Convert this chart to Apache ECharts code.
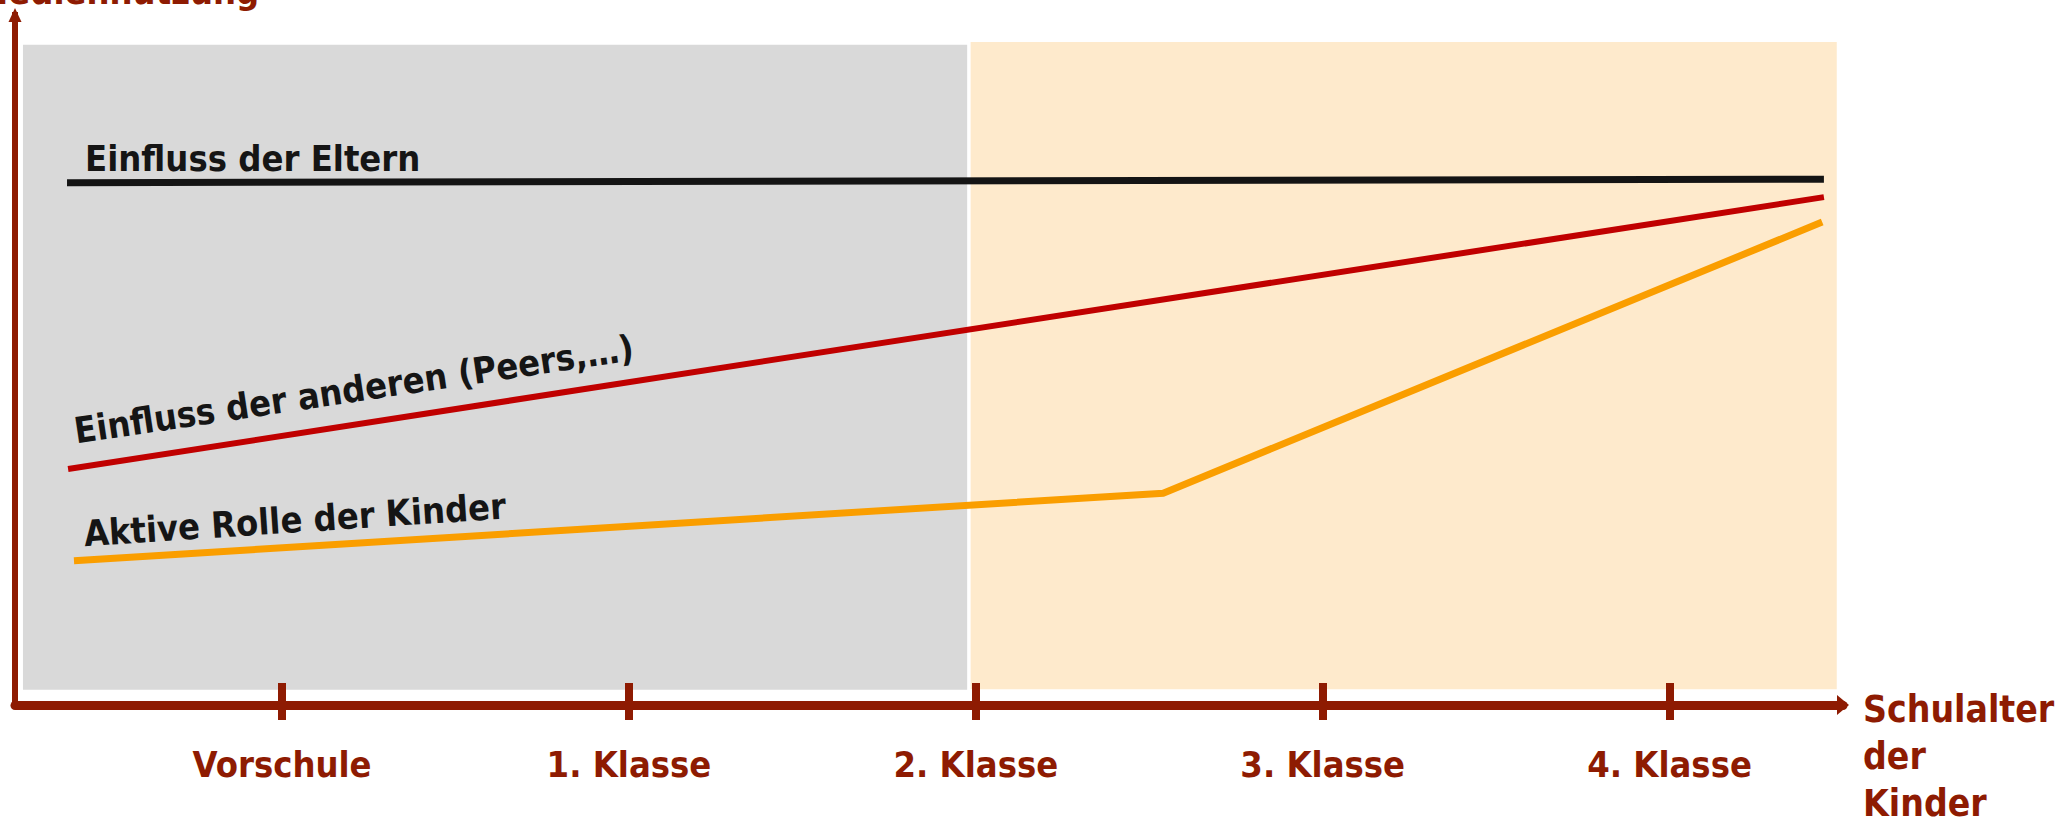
<!DOCTYPE html>
<html>
<head>
<meta charset="utf-8">
<script src="https://cdn.jsdelivr.net/npm/echarts@6/dist/echarts.min.js"></script>
<style>
  html, body { margin: 0; padding: 0; background: #ffffff; }
  #chart { width: 2062px; height: 825px; }
</style>
</head>
<body>
<div id="chart"></div>
<script>
// School stages along the horizontal axis, placed at positions 1..5
const stages = ['Vorschule', '1. Klasse', '2. Klasse', '3. Klasse', '4. Klasse'];
const stageTicks = [1, 2, 3, 4, 5];

// Influence curves as [school-age position, level]
const elternInfluence = [[0.38, 75.7], [5.445, 76.2]];
const peersInfluence = [[0.383, 34.2], [5.445, 73.6]];
const kinderRole = [[0.40, 20.9], [3.54, 30.7], [5.44, 70.0]];

// Background phases as [xStart, xEnd, yBottom, yTop]
const phaseEarly = [0.253, 2.975, 2.2, 95.7];
const phaseLate = [2.985, 5.482, 2.3, 96.1];

// Captions of the three curves, with their anchor point and tilt
const curveNames = ['Einfluss der Eltern', 'Einfluss der anderen (Peers,…)', 'Aktive Rolle der Kinder'];
const captionAnchors = [[0.432, 76.6], [0.409, 37.1], [0.432, 22.2]];
const captionTilt = [0, 8.5, 3.8];

const axisTitleY = 'Mediennutzung';
const axisTitleX = 'Schulalter\nder\nKinder';

const AXIS_RED = '#8E1B02';
const FONT = '"DejaVu Sans Condensed", "DejaVu Sans", sans-serif';

const chart = echarts.init(document.getElementById('chart'), null, { renderer: 'svg' });

const phases = [
  { box: phaseEarly, color: '#D9D9D9' },
  { box: phaseLate, color: '#FEEACC' }
];

const option = {
  animation: false,
  backgroundColor: '#ffffff',
  title: {
    text: axisTitleY,
    left: -24,
    top: -27,
    padding: 0,
    textStyle: { color: AXIS_RED, fontSize: 36, fontWeight: 'bold', fontFamily: FONT }
  },
  grid: {
    left: 15, top: 15, width: 1828, height: 690,
    containLabel: false,
    outerBoundsMode: 'none'
  },
  xAxis: [
    {
      type: 'value',
      min: 0.23,
      max: 5.5,
      position: 'bottom',
      splitLine: { show: false },
      axisLine: {
        show: true,
        lineStyle: { color: AXIS_RED, width: 9 },
        symbol: ['none', 'triangle'],
        symbolSize: [20, 12]
      },
      axisTick: {
        show: true,
        customValues: stageTicks,
        inside: false,
        length: 15,
        lineStyle: { color: AXIS_RED, width: 8 }
      },
      axisLabel: {
        show: true,
        customValues: stageTicks,
        formatter: v => stages[Math.round(v) - 1] || '',
        color: AXIS_RED,
        fontSize: 36,
        fontWeight: 'bold',
        fontFamily: FONT,
        margin: 41
      },
      name: axisTitleX,
      nameLocation: 'end',
      nameGap: 20,
      nameTextStyle: {
        color: AXIS_RED,
        fontSize: 37,
        fontWeight: 'bold',
        fontFamily: FONT,
        lineHeight: 47,
        align: 'left',
        verticalAlign: 'top',
        padding: [-19, 0, 0, 0]
      }
    },
    {
      // upper halves of the stage ticks, crossing the axis line
      type: 'value',
      min: 0.23,
      max: 5.5,
      position: 'bottom',
      gridIndex: 0,
      splitLine: { show: false },
      axisLine: { show: false },
      axisLabel: { show: false },
      axisTick: {
        show: true,
        customValues: stageTicks,
        inside: true,
        length: 22,
        lineStyle: { color: AXIS_RED, width: 8 }
      }
    }
  ],
  yAxis: {
    type: 'value',
    min: 0,
    max: 100,
    splitLine: { show: false },
    axisTick: { show: false },
    axisLabel: { show: false },
    axisLine: {
      show: true,
      lineStyle: { color: AXIS_RED, width: 6, cap: 'square' },
      symbol: ['none', 'triangle'],
      symbolSize: [13, 14]
    }
  },
  series: [
    {
      type: 'custom',
      name: 'Phasen',
      silent: true,
      z: 0,
      data: phases.map(p => p.box),
      renderItem: (params, api) => {
        const p0 = api.coord([api.value(0), api.value(3)]);
        const p1 = api.coord([api.value(1), api.value(2)]);
        return {
          type: 'rect',
          shape: { x: p0[0], y: p0[1], width: p1[0] - p0[0], height: p1[1] - p0[1] },
          style: { fill: phases[params.dataIndex].color }
        };
      }
    },
    {
      type: 'line',
      name: curveNames[0],
      z: 3,
      symbol: 'none',
      silent: true,
      data: elternInfluence,
      lineStyle: { color: '#141414', width: 7, cap: 'butt' }
    },
    {
      type: 'line',
      name: curveNames[1],
      z: 3,
      symbol: 'none',
      silent: true,
      data: peersInfluence,
      lineStyle: { color: '#C00000', width: 6, cap: 'butt' }
    },
    {
      type: 'line',
      name: curveNames[2],
      z: 3,
      symbol: 'none',
      silent: true,
      data: kinderRole,
      lineStyle: { color: '#FA9E00', width: 7, cap: 'butt', join: 'miter' }
    },
    {
      type: 'scatter',
      name: 'Beschriftung',
      z: 4,
      silent: true,
      symbolSize: 0.1,
      itemStyle: { color: 'rgba(0,0,0,0)', opacity: 1 },
      data: captionAnchors.map((a, i) => ({
        value: a,
        label: { rotate: captionTilt[i] }
      })),
      label: {
        show: true,
        position: 'inside',
        align: 'left',
        verticalAlign: 'bottom',
        formatter: p => curveNames[p.dataIndex],
        color: '#151515',
        opacity: 1,
        fontSize: 36,
        fontWeight: 'bold',
        fontFamily: FONT
      }
    }
  ]
};

chart.setOption(option);
</script>
</body>
</html>
